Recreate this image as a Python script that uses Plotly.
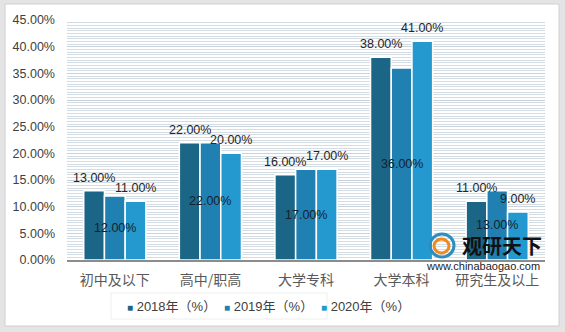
import plotly.graph_objects as go

categories = ["初中及以下", "高中/职高", "大学专科", "大学本科", "研究生及以上"]
series_names = ["2018年（%）", "2019年（%）", "2020年（%）"]
v2018 = [13, 22, 16, 38, 11]
v2019 = [12, 22, 17, 36, 13]
v2020 = [11, 20, 17, 41, 9]
colors = ["#1b6587", "#1f80b1", "#2499d0"]
y_ticks = [0, 5, 10, 15, 20, 25, 30, 35, 40, 45]

W, H = 565, 332
ML, MR, MT, MB = 67, 20, 20, 72
BARGAP = 0.35

pw = W - ML - MR
ph = H - MT - MB
def px_x(p):
    return (p - ML) / pw
def px_y(p):
    return (H - MB - p) / ph

bar_px = pw / len(categories) * (1 - BARGAP) / 3
LBL_FONT = dict(size=12.5, color="#262626", family="Liberation Sans, Noto Sans CJK SC")

fig = go.Figure()
annotations = []
for i, (name, vals, col) in enumerate(zip(series_names, [v2018, v2019, v2020], colors)):
    fig.add_trace(go.Bar(
        x=categories, y=vals, name=name, showlegend=False,
        marker=dict(color=col, line=dict(color="white", width=1.5)),
    ))
    for c, v in zip(categories, vals):
        if i == 1:
            annotations.append(dict(
                x=c, y=v / 2, xref="x", yref="y", text=f"{v:.2f}%",
                xshift=(i - 1) * bar_px, showarrow=False,
                xanchor="center", yanchor="middle",
                font=dict(size=12.5, color="#15222e", family="Liberation Sans")))
        else:
            annotations.append(dict(
                x=c, y=v, xref="x", yref="y", text=f"{v:.2f}%",
                xshift=(i - 1) * bar_px, yshift=13, showarrow=False,
                xanchor="center", yanchor="middle", font=LBL_FONT))

# legend entries (drawn as text)
for i, (name, col) in enumerate(zip(series_names, colors)):
    annotations.append(dict(
        text=f"<span style='color:{col};font-size:10px'>■</span> {name}",
        xref="paper", yref="paper", x=px_x(125 + i * 97), y=px_y(306),
        xanchor="left", yanchor="middle", showarrow=False,
        font=dict(size=13, color="#404040", family="Liberation Sans, Noto Sans CJK SC")))

annotations += [
    dict(text="<b>观研天下</b>", xref="paper", yref="paper", x=px_x(460), y=px_y(245),
         xanchor="left", yanchor="middle", showarrow=False,
         font=dict(size=20, color="#111111", family="Noto Sans CJK SC")),
    dict(text="www.chinabaogao.com", xref="paper", yref="paper", x=px_x(483), y=px_y(266),
         xanchor="center", yanchor="middle", showarrow=False,
         font=dict(size=11, color="#222222", family="Liberation Sans")),
]

fig.update_layout(
    width=W, height=H,
    margin=dict(l=ML, r=MR, t=MT, b=MB),
    barmode="group", bargap=BARGAP, bargroupgap=0.0,
    paper_bgcolor="#e4e4e4",
    plot_bgcolor="#eaf0f5",
    font=dict(family="Liberation Sans, Noto Sans CJK SC", size=13, color="#404040"),
    showlegend=False,
    xaxis=dict(
        showline=True, linecolor="#8c8c8c", linewidth=1.5,
        tickfont=dict(size=14, color="#595959", family="Noto Sans CJK SC"),
        ticks="", showgrid=False, ticklabelstandoff=6,
    ),
    yaxis=dict(
        range=[0, 45], tickvals=y_ticks, ticktext=[f"{v:.2f}%" for v in y_ticks],
        showgrid=True, gridcolor="#c9d2db", gridwidth=1,
        minor=dict(dtick=0.5, showgrid=True, gridcolor="#d3dbe3", gridwidth=1),
        zeroline=False, ticks="", ticklabelstandoff=11,
        tickfont=dict(size=12.5, color="#404040", family="Liberation Sans"),
    ),
    shapes=[
        dict(type="rect", xref="paper", yref="paper", layer="below",
             x0=px_x(5), x1=px_x(559), y0=px_y(326), y1=px_y(4),
             fillcolor="white", line=dict(color="#d0d0d0", width=1)),
        dict(type="rect", xref="paper", yref="paper", layer="below",
             x0=px_x(111), x1=px_x(327), y0=px_y(319), y1=px_y(293),
             fillcolor="white", line=dict(color="#eeeeee", width=1)),
        dict(type="circle", xref="paper", yref="paper", layer="above",
             x0=px_x(430), x1=px_x(454), y0=px_y(257), y1=px_y(234),
             fillcolor="rgba(0,0,0,0)", line=dict(color="#2a8fc0", width=3)),
        dict(type="circle", xref="paper", yref="paper", layer="above",
             x0=px_x(434), x1=px_x(449), y0=px_y(253), y1=px_y(239),
             fillcolor="rgba(0,0,0,0)", line=dict(color="#f08a1c", width=3)),
    ],
    annotations=annotations,
)

fig.write_html("out.html")
